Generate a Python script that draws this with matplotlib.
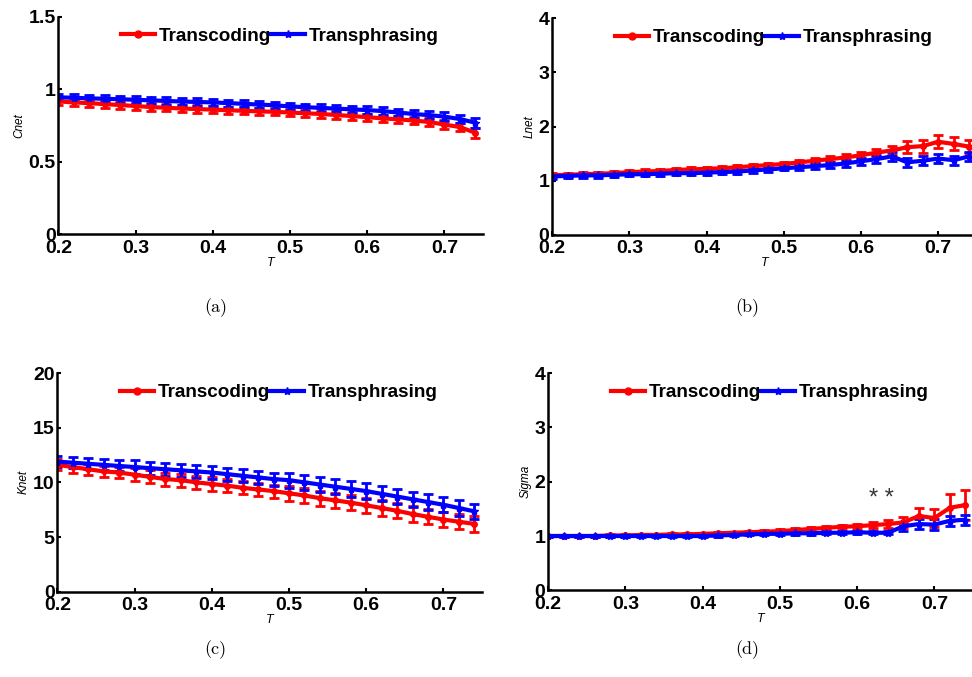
import matplotlib

matplotlib.use("Agg")
import matplotlib.pyplot as plt
from matplotlib.lines import Line2D

plt.rcParams["font.family"] = ["Liberation Sans", "DejaVu Sans"]
plt.rcParams["font.weight"] = "bold"

T = [0.20, 0.22, 0.24, 0.26, 0.28, 0.30, 0.32, 0.34, 0.36, 0.38,
     0.40, 0.42, 0.44, 0.46, 0.48, 0.50, 0.52, 0.54, 0.56, 0.58,
     0.60, 0.62, 0.64, 0.66, 0.68, 0.70, 0.72, 0.74]

# (a) Cnet
cnet_code = [0.917, 0.910, 0.905, 0.898, 0.892, 0.885, 0.878, 0.873, 0.868, 0.864,
             0.860, 0.856, 0.852, 0.848, 0.845, 0.840, 0.835, 0.830, 0.823, 0.816,
             0.808, 0.800, 0.793, 0.785, 0.775, 0.757, 0.740, 0.700]
cnet_code_err = [0.025] * 24 + [0.03, 0.03, 0.03, 0.035]
cnet_phr = [0.945, 0.942, 0.938, 0.935, 0.932, 0.928, 0.924, 0.920, 0.916, 0.913,
            0.910, 0.905, 0.900, 0.895, 0.890, 0.882, 0.877, 0.872, 0.867, 0.862,
            0.857, 0.850, 0.840, 0.830, 0.822, 0.812, 0.795, 0.770]
cnet_phr_err = [0.025] * 24 + [0.03, 0.03, 0.03, 0.035]

# (b) Lnet
lnet_code = [1.10, 1.11, 1.12, 1.13, 1.14, 1.16, 1.17, 1.18, 1.20, 1.21,
             1.22, 1.23, 1.25, 1.27, 1.29, 1.31, 1.34, 1.37, 1.40, 1.43,
             1.47, 1.52, 1.56, 1.62, 1.64, 1.72, 1.68, 1.63]
lnet_code_err = [0.04] * 16 + [0.05, 0.05, 0.05, 0.06, 0.06, 0.07, 0.08,
                               0.11, 0.12, 0.12, 0.12, 0.12]
lnet_phr = [1.08, 1.09, 1.10, 1.10, 1.11, 1.12, 1.12, 1.13, 1.14, 1.14,
            1.15, 1.16, 1.17, 1.19, 1.21, 1.23, 1.25, 1.27, 1.29, 1.32,
            1.36, 1.40, 1.45, 1.34, 1.37, 1.41, 1.38, 1.45]
lnet_phr_err = [0.04] * 16 + [0.05, 0.05, 0.05, 0.06, 0.06, 0.07, 0.08,
                              0.08, 0.08, 0.08, 0.08, 0.08]

# (c) Knet
knet_code = [11.6, 11.4, 11.2, 11.0, 10.9, 10.7, 10.5, 10.3, 10.2, 10.0,
             9.85, 9.7, 9.5, 9.35, 9.2, 9.0, 8.8, 8.55, 8.35, 8.15,
             7.9, 7.65, 7.4, 7.1, 6.85, 6.6, 6.4, 6.2]
knet_code_err = [0.5] * 5 + [0.6] * 10 + [0.7] * 13
knet_phr = [11.9, 11.8, 11.7, 11.6, 11.5, 11.4, 11.3, 11.2, 11.1, 11.0,
            10.9, 10.75, 10.6, 10.45, 10.3, 10.2, 10.0, 9.8, 9.6, 9.4,
            9.2, 8.95, 8.7, 8.45, 8.2, 7.95, 7.65, 7.35]
knet_phr_err = [0.5] * 5 + [0.6] * 10 + [0.7] * 13

# (d) Sigma
sigma_code = [1.00, 1.00, 1.00, 1.00, 1.01, 1.01, 1.02, 1.02, 1.03, 1.03,
              1.04, 1.05, 1.06, 1.07, 1.08, 1.09, 1.11, 1.13, 1.15, 1.17,
              1.18, 1.20, 1.22, 1.25, 1.37, 1.33, 1.52, 1.57]
sigma_code_err = [0.02] * 14 + [0.03] * 6 + [0.05, 0.06, 0.07, 0.10,
                                             0.14, 0.17, 0.25, 0.27]
sigma_phr = [1.00, 1.00, 1.00, 1.00, 1.00, 1.00, 1.00, 1.00, 1.00, 1.00,
             1.00, 1.01, 1.02, 1.03, 1.04, 1.04, 1.05, 1.05, 1.06, 1.06,
             1.07, 1.06, 1.06, 1.18, 1.22, 1.21, 1.28, 1.30]
sigma_phr_err = [0.02] * 14 + [0.03] * 9 + [0.08, 0.09, 0.10, 0.09, 0.09]

RED = "#ff0000"
BLUE = "#0000ff"

PANELS = [
    # (axes rect, ylabel, ylim, yticks, red, red err, blue, blue err, caption, caption xy)
    ([0.060, 0.654, 0.437, 0.321], "Cnet", (0, 1.5), [0, 0.5, 1, 1.5],
     cnet_code, cnet_code_err, cnet_phr, cnet_phr_err, "(a)", (0.222, 0.545)),
    ([0.568, 0.653, 0.437, 0.320], "Lnet", (0, 4), [0, 1, 2, 3, 4],
     lnet_code, lnet_code_err, lnet_phr, lnet_phr_err, "(b)", (0.769, 0.545)),
    ([0.059, 0.126, 0.437, 0.323], "Knet", (0, 20), [0, 5, 10, 15, 20],
     knet_code, knet_code_err, knet_phr, knet_phr_err, "(c)", (0.222, 0.040)),
    ([0.564, 0.128, 0.437, 0.321], "Sigma", (0, 4), [0, 1, 2, 3, 4],
     sigma_code, sigma_code_err, sigma_phr, sigma_phr_err, "(d)", (0.769, 0.040)),
]

fig = plt.figure(figsize=(9.72, 6.77), dpi=100)

for rect, ylab, ylim, yticks, red, red_e, blue, blue_e, cap, cap_xy in PANELS:
    ax = fig.add_axes(rect)
    ax.errorbar(T, red, yerr=red_e, color=RED, lw=3.0, marker="o", ms=4,
                elinewidth=2.0, capsize=3.5, capthick=2.0)
    ax.errorbar(T, blue, yerr=blue_e, color=BLUE, lw=3.0, marker="*", ms=6,
                elinewidth=2.0, capsize=3.5, capthick=2.0)
    ax.set_xlim(0.2, 0.75)
    ax.set_ylim(*ylim)
    ax.set_xticks([0.2, 0.3, 0.4, 0.5, 0.6, 0.7])
    ax.set_xticklabels(["0.2", "0.3", "0.4", "0.5", "0.6", "0.7"])
    ax.set_yticks(yticks)
    ax.set_yticklabels([f"{v:g}" for v in yticks])
    ax.tick_params(direction="in", length=3, width=1.5, labelsize=14)
    ax.tick_params(axis="x", pad=4)
    ax.tick_params(axis="y", pad=2)
    for s in ("top", "right"):
        ax.spines[s].set_visible(False)
    for s in ("left", "bottom"):
        ax.spines[s].set_linewidth(1.8)
    ax.set_ylabel(ylab, fontsize=8.5, style="italic", labelpad=2)
    ax.set_xlabel("T", fontsize=9, style="italic", labelpad=0)
    handles = [Line2D([], [], color=RED, lw=3.0, marker="o", ms=5),
               Line2D([], [], color=BLUE, lw=3.0, marker="*", ms=6)]
    ax.legend(handles, ["Transcoding", "Transphrasing"], loc="center left",
              bbox_to_anchor=(0.147, 0.91), frameon=False, ncol=2, fontsize=13.6,
              handlelength=1.8, handletextpad=0.2, columnspacing=0.0,
              borderaxespad=0, borderpad=0)
    fig.text(cap_xy[0], cap_xy[1], cap, fontsize=13, family="cmr10",
             fontweight="normal", ha="center", va="center")
    if ylab == "Sigma":
        ax.text(0.632, 1.68, "* *", fontsize=17, fontweight="normal",
                ha="center", va="center", color="#333333")

fig.savefig("out.png", dpi=100)
